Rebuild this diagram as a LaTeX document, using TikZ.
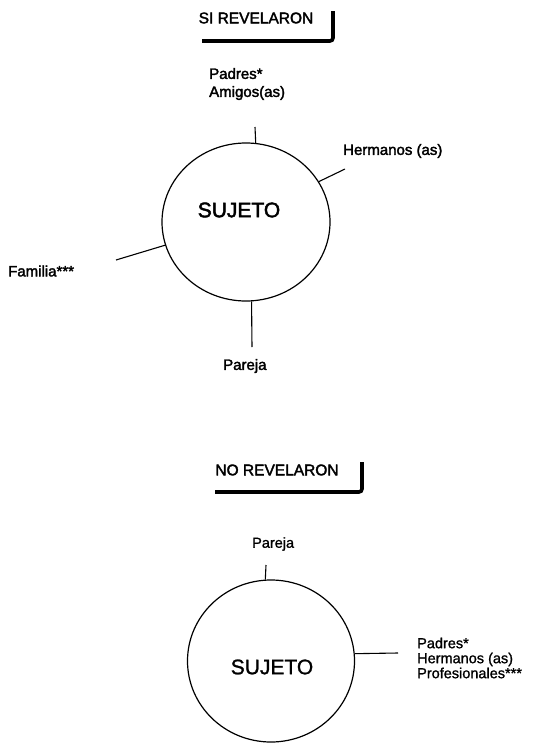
\documentclass[tikz,border=0pt]{standalone}
\usepackage{fontspec}
\setmainfont{Liberation Sans}
\newfontfamily\heavyfont[FakeBold=2.2]{Liberation Sans}
\newfontfamily\mediumfont[FakeBold=1.2]{Liberation Sans}
\usetikzlibrary{shapes.geometric}
\begin{document}
\begin{tikzpicture}[x=1pt,y=-1pt,
  subject/.style={ellipse,draw,line width=1.2pt,inner sep=0pt},
  spoke/.style={line width=1.1pt},
  lbl/.style={inner sep=0pt,anchor=west,align=left,font=\fontsize{15}{18}\selectfont\heavyfont},
  lbltwo/.style={inner sep=0pt,anchor=west,align=left,font=\fontsize{14.5}{15}\selectfont\mediumfont},
  head/.style={inner sep=0pt,font=\fontsize{15.5}{18}\selectfont\heavyfont},
  centre/.style={inner sep=0pt,font=\fontsize{21}{24}\selectfont},
  bracket/.style={line width=3.6pt,rounded corners=3pt}]
\useasboundingbox (0,0) rectangle (537,744);

% ---- upper chart
\node[head] (h1) at (256,18) {SI REVELARON};
\coordinate (b1a) at (333,11);
\coordinate (b1b) at (333,41);
\coordinate (b1c) at (202,41);
\draw[bracket] (b1a) -- (b1b) -- (b1c);

\node[subject,minimum width=168pt,minimum height=158pt] (c1) at (246,222) {};
\node[centre] (s1) at (239,210) {\heavyfont SUJETO};

\coordinate (e1top) at (255,127);
\coordinate (e1her) at (345,169);
\coordinate (e1fam) at (116,260);
\coordinate (e1par) at (252,347);
\draw[spoke] (c1.83.5) -- (e1top);
\draw[spoke] (c1.29) -- (e1her);
\draw[spoke] (c1.196) -- (e1fam);
\draw[spoke] (c1.274) -- (e1par);

\node[lbl] (l1top) at (209,84) {Padres*\\Amigos(as)};
\node[lbl] (l1her) at (343,151) {Hermanos (as)};
\node[lbl] (l1fam) at (8,271) {Familia***};
\node[lbl] (l1par) at (223,366) {Pareja};

% ---- lower chart
\node[head] (h2) at (277,470) {NO REVELARON};
\coordinate (b2a) at (362,462);
\coordinate (b2b) at (362,492);
\coordinate (b2c) at (215,492);
\draw[bracket] (b2a) -- (b2b) -- (b2c);

\node[subject,minimum width=167pt,minimum height=162pt] (c2) at (271,661) {};
\node[centre] (s2) at (272,667) {\mediumfont SUJETO};

\coordinate (e2top) at (266,565);
\coordinate (e2rgt) at (398,653);
\draw[spoke] (c2.94) -- (e2top);
\draw[spoke] (c2.5.5) -- (e2rgt);

\node[lbltwo] (l2top) at (252,544) {Pareja};
\node[lbltwo] (l2rgt) at (417,658) {Padres*\\Hermanos (as)\\Profesionales***};
\end{tikzpicture}
\end{document}
